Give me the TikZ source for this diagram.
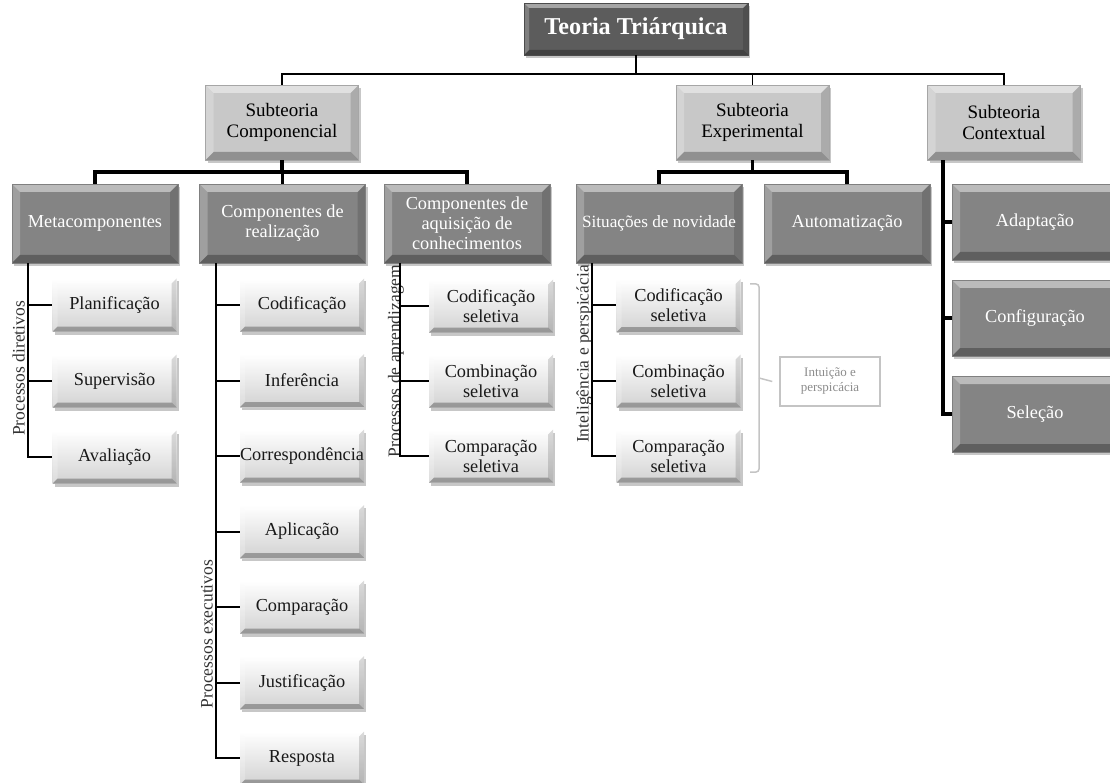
\documentclass[tikz,border=0pt]{standalone}
\usepackage{fontspec}
\setmainfont{Liberation Serif}
\usetikzlibrary{shadows,calc}

\definecolor{titlegray}{HTML}{5C5C5C}
\definecolor{lvone}{HTML}{C8C8C8}
\definecolor{lvtwo}{HTML}{848484}
\definecolor{lvthreebot}{HTML}{D2D2D2}
\definecolor{notegray}{HTML}{8C8C8C}
\definecolor{noteline}{HTML}{C4C4C4}

\tikzset{
  % bevelled edges: light top/left, dark bottom/right
  bevel/.style={path picture={
    \coordinate (bvNW) at (path picture bounding box.north west);
    \coordinate (bvNE) at (path picture bounding box.north east);
    \coordinate (bvSW) at (path picture bounding box.south west);
    \coordinate (bvSE) at (path picture bounding box.south east);
    \fill[white,opacity=.45] (bvNW) -- (bvNE) -- ([shift={(-#1,-#1)}]bvNE) -- ([shift={(#1,-#1)}]bvNW) -- cycle;
    \fill[white,opacity=.22] (bvNW) -- ([shift={(#1,-#1)}]bvNW) -- ([shift={(#1,#1)}]bvSW) -- (bvSW) -- cycle;
    \fill[black,opacity=.28] (bvSW) -- ([shift={(#1,#1)}]bvSW) -- ([shift={(-#1,#1)}]bvSE) -- (bvSE) -- cycle;
    \fill[black,opacity=.14] (bvSE) -- ([shift={(-#1,#1)}]bvSE) -- ([shift={(-#1,-#1)}]bvNE) -- (bvNE) -- cycle;
  }},
  bevel/.default=6pt,
  basebox/.style={rectangle, align=center, inner xsep=0pt, inner ysep=1pt,
    font=\fontsize{18.3}{20}\selectfont,
    drop shadow={shadow xshift=2pt, shadow yshift=-3pt, opacity=.22, fill=black}},
  titlebox/.style={basebox, fill=titlegray, draw=black!70, line width=.6pt, text=white,
    font=\fontsize{24.2}{27}\selectfont\bfseries, minimum width=224pt, minimum height=52pt, bevel=5pt},
  subbox/.style={basebox, fill=lvone, draw=black!35, line width=.5pt, text=black,
    font=\fontsize{19}{20.5}\selectfont,
    minimum width=153pt, minimum height=75pt, bevel=8pt},
  compbox/.style={basebox, fill=lvtwo, draw=black!50, line width=.5pt, text=white,
    minimum width=166pt, minimum height=79pt, bevel=8pt},
  ctxbox/.style={compbox, minimum height=76pt},
  leafbox/.style={basebox, top color=white, bottom color=lvthreebot, draw=none, text=black!90,
    minimum width=124pt, minimum height=53pt, bevel=5pt},
  vlabel/.style={rotate=90, anchor=base, inner sep=0pt, text=black!80,
    font=\fontsize{17.5}{19}\selectfont},
  notebox/.style={rectangle, align=center, draw=noteline, line width=1.5pt, fill=white,
    text=notegray, font=\fontsize{13}{15}\selectfont, minimum width=100pt, minimum height=49pt},
  conn/.style={line width=1.6pt, black},
  connthick/.style={line width=3.8pt, black},
  branch/.style={line width=2pt, black},
  bracketline/.style={line width=1.5pt, noteline, rounded corners=3pt},
}

\begin{document}
\begin{tikzpicture}[x=1pt,y=-1pt]
\useasboundingbox (0,0) rectangle (1110,783);

% root and the three subtheories
\node[titlebox] (root) at (636,29) {Teoria Triárquica};
\node[subbox] (comp) at (282,122.5) {Subteoria\\Componencial};
\node[subbox] (expe) at (752.5,122.5) {Subteoria\\Experimental};
\node[subbox] (ctx)  at (1004,122.5) {Subteoria\\Contextual};

% second level
\node[compbox] (meta) at (95,223.5)  {Metacomponentes};
\node[compbox] (real) at (282.5,223.5) {Componentes de\\realização};
\node[compbox] (aqui) at (467,223.5) {Componentes de\\aquisição de\\conhecimentos};
\node[compbox, font=\fontsize{17.2}{20}\selectfont] (nov) at (659,223.5) {Situações de novidade};
\node[compbox] (auto) at (847,223.5) {Automatização};
\node[ctxbox] (adap) at (1035,222) {Adaptação};
\node[ctxbox] (conf) at (1035,318) {Configuração};
\node[ctxbox] (sele) at (1035,414) {Seleção};

% metacomponents
\node[leafbox] (plan)   at (114.5,305) {Planificação};
\node[leafbox] (superv) at (114.5,381) {Supervisão};
\node[leafbox] (aval)   at (114.5,457) {Avaliação};

% performance components
\node[leafbox] (codif)  at (302,305)   {Codificação};
\node[leafbox] (infer)  at (302,380.5) {Inferência};
\node[leafbox] (corr)   at (302,456)   {Correspondência};
\node[leafbox] (aplic)  at (302,531.5) {Aplicação};
\node[leafbox] (compa)  at (302,607)   {Comparação};
\node[leafbox] (justif) at (302,682.5) {Justificação};
\node[leafbox] (resp)   at (302,758)   {Resposta};

% knowledge-acquisition components
\node[leafbox] (acod)   at (491,306) {Codificação\\seletiva};
\node[leafbox] (acomb)  at (491,381) {Combinação\\seletiva};
\node[leafbox] (acompa) at (491,456) {Comparação\\seletiva};

% novelty
\node[leafbox] (ncod)   at (678.5,305.5) {Codificação\\seletiva};
\node[leafbox] (ncomb)  at (678.5,381)   {Combinação\\seletiva};
\node[leafbox] (ncompa) at (678.5,456)   {Comparação\\seletiva};

% vertical labels along the trunks
\node[vlabel] (ldir) at (24.5,368.5) {Processos diretivos};
\node[vlabel] (lexe) at (212.5,634)  {Processos executivos};
\node[vlabel] (lapr) at (400,361)    {Processos de aprendizagem};
\node[vlabel] (lint) at (588.5,354)  {Inteligência e perspicácia};

% note with bracket
\node[notebox] (note) at (830,381.5) {Intuição e\\perspicácia};
\coordinate (brk) at (759,378);
\draw[bracketline] (750,284) -- (759,284) -- (759,472) -- (750,472);
\draw[bracketline] (brk) -- ([xshift=-7pt]note.west);

% top connectors
\draw[conn] (root.south) -- ++(0,19) -| (comp.north);
\draw[conn] (root.south) -- ++(0,19) -| (expe.north);
\draw[conn] (root.south) -- ++(0,19) -| (ctx.north);

% subtheory connectors
\draw[connthick] (comp.south) -- ++(0,12) -| (meta.north);
\draw[connthick] (comp.south) -- ++(0,12) -| (real.north);
\draw[connthick] (comp.south) -- ++(0,12) -| (aqui.north);
\draw[connthick] (expe.south) -- ++(0,12) -| (nov.north);
\draw[connthick] (expe.south) -- ++(0,12) -| (auto.north);
\foreach \c in {adap,conf,sele}
  \draw[connthick] ([xshift=16pt]ctx.south west) |- (\c.west);

% leaf connectors
\foreach \c in {plan,superv,aval}
  \draw[branch] ([xshift=16.5pt]meta.south west) |- (\c.west);
\foreach \c in {codif,infer,corr,aplic,compa,justif,resp}
  \draw[branch] ([xshift=16.5pt]real.south west) |- (\c.west);
\foreach \c in {acod,acomb,acompa}
  \draw[branch] ([xshift=16.5pt]aqui.south west) |- (\c.west);
\foreach \c in {ncod,ncomb,ncompa}
  \draw[branch] ([xshift=16.5pt]nov.south west) |- (\c.west);
\end{tikzpicture}
\end{document}
